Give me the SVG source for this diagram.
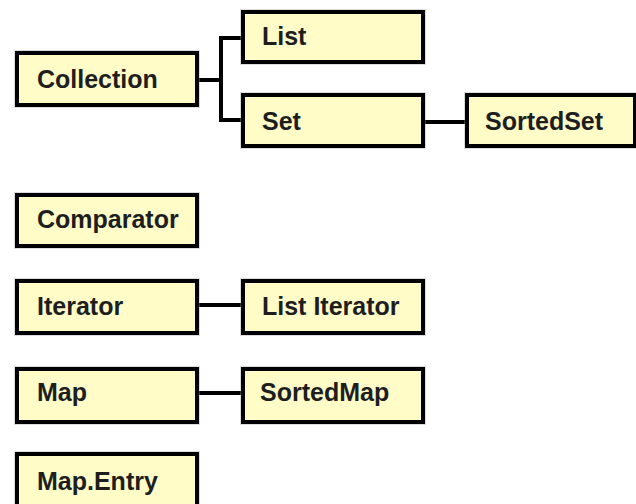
<svg xmlns="http://www.w3.org/2000/svg" width="636" height="504" viewBox="0 0 636 504">
  <style>
    .box { fill: #fffcc8; stroke: #000; stroke-width: 4; }
    .halo { fill: none; stroke: #9a9a9a; stroke-width: 6; opacity: 0.35; }
    .lbl { font-family: "Liberation Sans", Arial, sans-serif; font-weight: bold; font-size: 25px; fill: #1e1e1e; }
    .wire { fill: none; stroke: #000; stroke-width: 4; }
  </style>
  <rect width="636" height="504" fill="#fff"/>

  <g id="connectors">
    <polyline class="wire" points="199,80 221,80"/>
    <polyline class="wire" points="241,38 221,38 221,120 241,120"/>
    <line class="wire" x1="425" y1="122" x2="465" y2="122"/>
    <line class="wire" x1="199" y1="305" x2="241" y2="305"/>
    <line class="wire" x1="199" y1="393" x2="241" y2="393"/>
  </g>

  <g id="collection">
    <rect class="halo" x="17" y="53" width="180" height="52"/>
    <rect class="box" x="17" y="53" width="180" height="52"/>
    <text class="lbl" x="37" y="88">Collection</text>
  </g>
  <g id="list">
    <rect class="halo" x="243" y="12" width="180" height="50"/>
    <rect class="box" x="243" y="12" width="180" height="50"/>
    <text class="lbl" x="262" y="45">List</text>
  </g>
  <g id="set">
    <rect class="halo" x="243" y="95" width="180" height="51"/>
    <rect class="box" x="243" y="95" width="180" height="51"/>
    <text class="lbl" x="262" y="130">Set</text>
  </g>
  <g id="sortedset">
    <rect class="halo" x="467" y="95" width="168" height="51"/>
    <rect class="box" x="467" y="95" width="168" height="51"/>
    <text class="lbl" x="485" y="130">SortedSet</text>
  </g>
  <g id="comparator">
    <rect class="halo" x="17" y="195" width="180" height="51"/>
    <rect class="box" x="17" y="195" width="180" height="51"/>
    <text class="lbl" x="37" y="228">Comparator</text>
  </g>
  <g id="iterator">
    <rect class="halo" x="17" y="281" width="180" height="52"/>
    <rect class="box" x="17" y="281" width="180" height="52"/>
    <text class="lbl" x="37" y="315">Iterator</text>
  </g>
  <g id="listiterator">
    <rect class="halo" x="243" y="281" width="180" height="52"/>
    <rect class="box" x="243" y="281" width="180" height="52"/>
    <text class="lbl" x="262" y="315">List Iterator</text>
  </g>
  <g id="map">
    <rect class="halo" x="17" y="369" width="180" height="53"/>
    <rect class="box" x="17" y="369" width="180" height="53"/>
    <text class="lbl" x="37" y="401">Map</text>
  </g>
  <g id="sortedmap">
    <rect class="halo" x="243" y="369" width="180" height="53"/>
    <rect class="box" x="243" y="369" width="180" height="53"/>
    <text class="lbl" x="260" y="401">SortedMap</text>
  </g>
  <g id="mapentry">
    <rect class="halo" x="17" y="454" width="180" height="53"/>
    <rect class="box" x="17" y="454" width="180" height="53"/>
    <text class="lbl" x="37" y="490">Map.Entry</text>
  </g>
</svg>
